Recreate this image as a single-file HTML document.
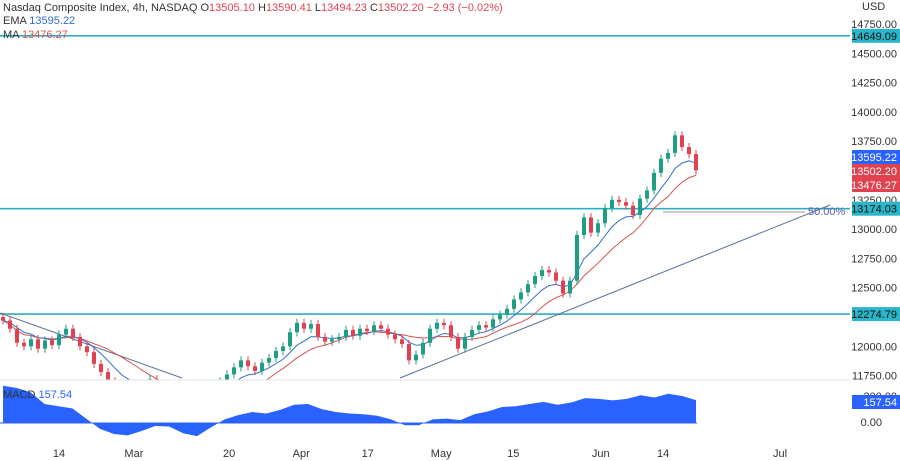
<!DOCTYPE html>
<html><head><meta charset="utf-8"><style>
body{margin:0;background:#fff;width:900px;height:461px;overflow:hidden;font-family:"Liberation Sans",sans-serif}
svg{display:block}
text{font-family:"Liberation Sans",sans-serif;font-size:11px}
</style></head><body>
<svg id="c" width="900" height="461"></svg>
<script>
const closes=[12220,12150,12030,12000,12060,11980,12050,12010,12100,12150,12080,12000,11950,11850,11780,11700,11620,11580,11600,11560,11620,11720,11650,11580,11500,11470,11420,11450,11520,11580,11640,11700,11760,11820,11880,11830,11790,11860,11900,11960,12000,12120,12200,12150,12190,12080,12040,12060,12080,12140,12090,12150,12130,12180,12150,12100,12060,12020,11880,11930,12030,12150,12200,12180,12080,11980,12080,12140,12180,12160,12230,12270,12320,12400,12460,12530,12600,12650,12630,12560,12450,12560,12950,13100,12970,13050,13180,13250,13230,13200,13120,13260,13330,13480,13600,13650,13800,13700,13640,13502];
const macdVals=[255,240,210,130,115,100,30,-40,-75,-85,-55,-20,-25,-70,-90,-30,25,55,75,65,90,125,130,95,75,65,60,50,25,-15,-15,25,30,20,60,80,110,115,130,145,125,140,170,165,155,165,190,175,200,185,157];
const priceTicks=[14750,14500,14250,14000,13750,13250,13000,12750,12500,12250,12000,11750];
const levels=[14649.09,13174.03,12274.79];
const dateLabels=["14","Mar","20","Apr","17","May","15","Jun","14","Jul"];
const dateIdx=[8,18.7,32.3,42.6,52.1,62.6,72.9,85.4,94.3,111];
const NS="http://www.w3.org/2000/svg";
const svg=document.getElementById('c');
function y(v){return 24+(14750-v)*0.1172;}
function x(i){return 3+i*7;}
function my(v){return 423-v*0.146;}
function mk(t,a,p){const e=document.createElementNS(NS,t);for(const k in a)e.setAttribute(k,a[k]);(p||svg).appendChild(e);return e;}
const defs=mk('defs',{});
const cp=mk('clipPath',{id:'mc'},defs);mk('rect',{x:0,y:0,width:850,height:380},cp);
const main=mk('g',{'clip-path':'url(#mc)'});


levels.forEach(v=>{const l=mk('line',{x1:0,x2:850,y1:y(v),y2:y(v),stroke:'#2bb0c0','stroke-width':1.6},main);

});
let tl=mk('line',{x1:0,y1:313,x2:182,y2:378,stroke:'#5a7398','stroke-width':1},main);


tl=mk('line',{x1:400,y1:378,x2:830,y2:205,stroke:'#5a7398','stroke-width':1},main);


tl=mk('line',{x1:663,y1:212,x2:805,y2:212,stroke:'#999','stroke-width':1},main);


let ft=mk('text',{x:808,y:215,fill:'#5c5ca8','font-size':10},main);ft.textContent='50.00%';


let ema=[],e=closes[0];closes.forEach((c,i)=>{e=i?e+(c-e)*2/8:c;ema.push(e);});
let ma=closes.map((c,i)=>{const s=closes.slice(Math.max(0,i-11),i+1);return s.reduce((a,b)=>a+b,0)/s.length;});
let p=mk('polyline',{points:ma.map((v,i)=>x(i)+','+y(v)).join(' '),fill:'none',stroke:'#d9534f','stroke-width':1},main);


p=mk('polyline',{points:ema.map((v,i)=>x(i)+','+y(v)).join(' '),fill:'none',stroke:'#2f6fcc','stroke-width':1},main);


closes.forEach((c,i)=>{const o=i?closes[i-1]:c+30;const up=c>=o;const col=up?'#1e9e82':'#e0434f';
const hi=Math.max(o,c)+35,lo=Math.min(o,c)-35;
const g=mk('g',{},main);


mk('line',{x1:x(i),x2:x(i),y1:y(hi),y2:y(lo),stroke:col,'stroke-width':1},g);
const t=y(Math.max(o,c)),b=y(Math.min(o,c));
mk('rect',{x:x(i)-2,y:t,width:4,height:Math.max(1,b-t),fill:col},g);});
mk('line',{x1:0,x2:850,y1:380,y2:380,stroke:'#e0e3eb'});
const mx=k=>3+k*(693/(macdVals.length-1));
let d='M'+mx(0)+','+my(0)+' '+macdVals.map((v,k)=>'L'+mx(k)+','+my(v)).join(' ')+' L'+mx(macdVals.length-1)+','+my(0)+'Z';
p=mk('path',{d:d,fill:'#2962ff'});


mk('line',{x1:0,x2:697,y1:423,y2:423,stroke:'#2962ff','stroke-width':1});
let t=mk('text',{x:3,y:398,fill:'#333','font-size':10.5});t.innerHTML='MACD <tspan fill="#2962ff">157.54</tspan>';


priceTicks.forEach(v=>{const tt=mk('text',{x:897,y:y(v)+4,'text-anchor':'end',fill:'#333'});tt.textContent=v.toFixed(2);

});
t=mk('text',{x:862,y:10,fill:'#333'});t.textContent='USD';


t=mk('text',{x:897,y:400,'text-anchor':'end',fill:'#333'});t.textContent='200.00';


t=mk('text',{x:882,y:426,'text-anchor':'end',fill:'#333'});t.textContent='0.00';


function tag(v,yy,bg,fg,name){const g=mk('g',{});


mk('rect',{x:852,y:yy-7,width:48,height:14,fill:bg},g);
const tx=mk('text',{x:897,y:yy+4,'text-anchor':'end',fill:fg},g);tx.textContent=v.toFixed(2);}
levels.forEach(v=>tag(v,y(v),'#2bb5c8','#111','level-tag'));
tag(13595.22,157,'#2962ff','#fff','ema-tag');
tag(13502.20,171,'#e0434f','#fff','close-tag');
tag(13476.27,185,'#e0434f','#fff','ma-tag');
tag(157.54,402,'#2962ff','#fff','macd-tag');
dateLabels.forEach((s,k)=>{const tx=mk('text',{x:x(dateIdx[k]),y:457,'text-anchor':'middle',fill:'#333'});tx.textContent=s;

});
t=mk('text',{x:3,y:11,fill:'#333','font-size':10.5});
t.innerHTML='Nasdaq Composite Index, 4h, NASDAQ  O<tspan fill="#e0434f">13505.10</tspan>  H<tspan fill="#e0434f">13590.41</tspan>  L<tspan fill="#e0434f">13494.23</tspan>  C<tspan fill="#e0434f">13502.20  −2.93 (−0.02%)</tspan>';


t.setAttribute('xml:space','preserve');
t=mk('text',{x:3,y:24,fill:'#333','font-size':10.5});t.innerHTML='EMA  <tspan fill="#2f6fcc">13595.22</tspan>';


t=mk('text',{x:3,y:38,fill:'#333','font-size':10.5});t.innerHTML='MA  <tspan fill="#d9534f">13476.27</tspan>';


</script>
</body></html>
